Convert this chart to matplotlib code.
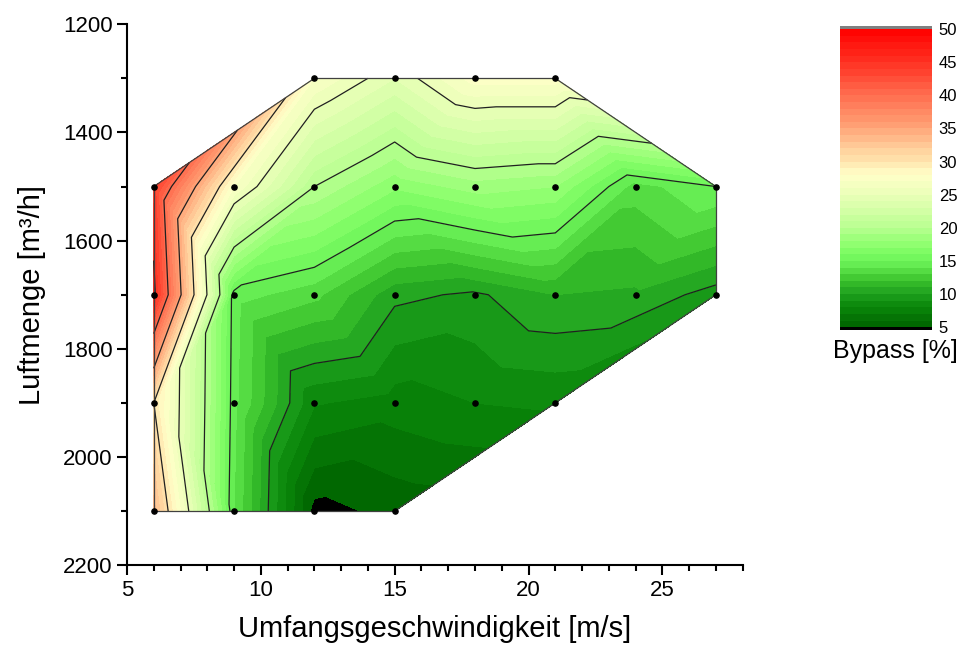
import numpy as np
import matplotlib
matplotlib.use("Agg")
import matplotlib.pyplot as plt
import matplotlib.tri as mtri
from matplotlib.colors import LinearSegmentedColormap

plt.rcParams['font.family'] = ['Liberation Sans', 'DejaVu Sans']

# Messpunkte: Umfangsgeschwindigkeit [m/s], Luftmenge [m3/h], Bypass [%]
geschw = [12, 15, 18, 21,
          6, 9, 12, 15, 18, 21, 24, 27,
          6, 9, 12, 15, 18, 21, 24, 27,
          6, 9, 12, 15, 18, 21,
          6, 9, 12, 15]
luft = [1300, 1300, 1300, 1300,
        1500, 1500, 1500, 1500, 1500, 1500, 1500, 1500,
        1700, 1700, 1700, 1700, 1700, 1700, 1700, 1700,
        1900, 1900, 1900, 1900, 1900, 1900,
        2100, 2100, 2100, 2100]
bypass = [27.0, 24.0, 27.5, 27.5,
          43.7, 27.0, 20.0, 17.2, 18.5, 18.0, 13.5, 15.0,
          45.6, 14.5, 13.3, 10.3, 9.8, 11.0, 10.8, 9.5,
          30.0, 14.3, 8.1, 7.5, 8.0, 8.2,
          33.5, 14.0, 4.6, 5.3]

cbar_ticks = [5, 10, 15, 20, 25, 30, 35, 40, 45, 50]

x = np.array(geschw, dtype=float)
y = np.array(luft, dtype=float)
z = np.array(bypass)

# Triangulierung in skalierten Koordinaten (Raster 3 m/s x 200 m3/h)
tri_s = mtri.Triangulation(x / 3.0, y / 200.0)
tri = mtri.Triangulation(x, y, triangles=tri_s.triangles)

# Farbskala gruen - gelb - rot
stops = [(5, (0, 100, 0)), (8, (10, 135, 10)), (10, (30, 160, 30)),
         (12, (60, 195, 45)), (15, (110, 245, 90)), (17, (135, 255, 105)),
         (20, (185, 255, 145)), (25, (235, 255, 185)), (28, (255, 255, 200)),
         (30, (255, 230, 175)), (33, (255, 195, 145)), (35, (255, 165, 120)),
         (40, (255, 110, 80)), (45, (255, 50, 35)), (50, (255, 0, 0))]
cmap = LinearSegmentedColormap.from_list(
    'bypass', [((v - 5) / 45.0, tuple(c / 255 for c in col)) for v, col in stops])
cmap.set_under('black')
cmap.set_over('#808080')

fig = plt.figure(figsize=(9.62, 6.55), dpi=100)
ax = fig.add_axes([0.132, 0.137, 0.64, 0.826])

levels = np.arange(5, 51, 1)
cf = ax.tricontourf(tri, z, levels=levels, cmap=cmap, extend='both')
ax.tricontour(tri, z, levels=np.arange(10, 50, 5), colors='#202020', linewidths=0.9)

# Rand der Messflaeche
edges = {}
for t in tri.triangles:
    for a, b in ((t[0], t[1]), (t[1], t[2]), (t[2], t[0])):
        k = (min(a, b), max(a, b))
        edges[k] = edges.get(k, 0) + 1
for (a, b), n in edges.items():
    if n == 1:
        ax.plot([x[a], x[b]], [y[a], y[b]], color='#404040', lw=0.9)

ax.scatter(x, y, s=14, color='black', zorder=5, clip_on=False)

ax.set_xlim(5, 28)
ax.set_ylim(2200, 1200)
ax.set_xticks([5, 10, 15, 20, 25])
ax.set_xticks(np.arange(5, 29, 1), minor=True)
ax.set_yticks(np.arange(1200, 2201, 200))
ax.set_yticks(np.arange(1200, 2201, 100), minor=True)
ax.tick_params(which='major', direction='out', length=7, width=1.5, labelsize=16)
ax.tick_params(which='minor', direction='out', length=4, width=1.5)
for s in ['top', 'right']:
    ax.spines[s].set_visible(False)
for s in ['left', 'bottom']:
    ax.spines[s].set_linewidth(1.5)
ax.set_xlabel('Umfangsgeschwindigkeit [m/s]', fontsize=21, labelpad=10)
ax.set_ylabel('Luftmenge [m³/h]', fontsize=21, labelpad=12)

cax = fig.add_axes([0.873, 0.496, 0.0956, 0.464])
cb = fig.colorbar(cf, cax=cax, ticks=cbar_ticks, extendfrac=0.01, extendrect=True)
cb.outline.set_visible(False)
cb.ax.tick_params(length=0, labelsize=12, pad=5)
cax.text(0.6, -0.04, 'Bypass [%]', transform=cax.transAxes, ha='center', va='top', fontsize=18)

fig.savefig('out.png', dpi=100)
